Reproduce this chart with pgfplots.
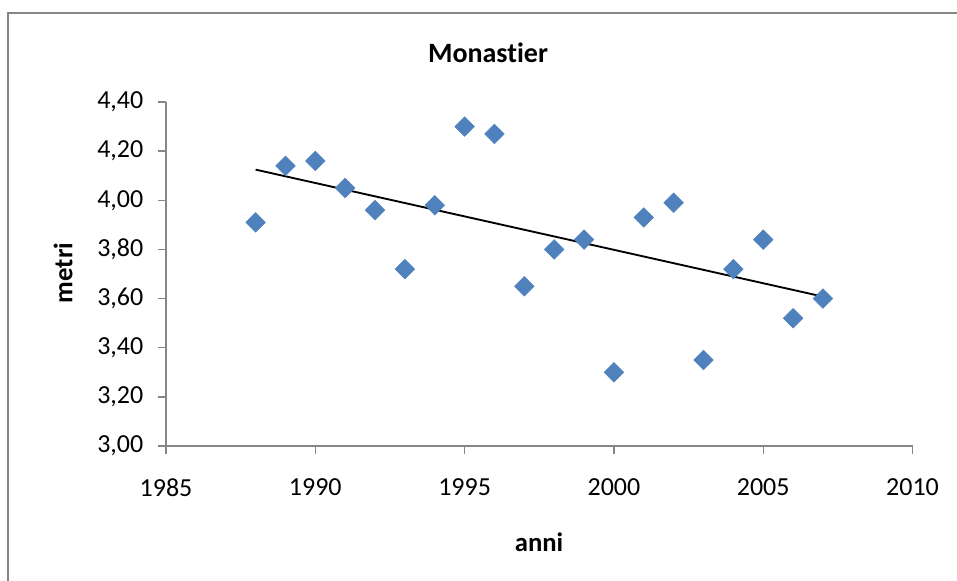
\documentclass[border=0pt]{standalone}
\usepackage{fontspec}
\setmainfont{Carlito}[Ligatures=NoCommon]
\usepackage{pgfplots}
\usepackage{pgfplotstable}
\pgfplotsset{compat=1.18}
\definecolor{xlblue}{HTML}{4F81BD}
\definecolor{xlgray}{HTML}{868686}
\pgfplotstableread{
x y
1988 3.91
1989 4.14
1990 4.16
1991 4.05
1992 3.96
1993 3.72
1994 3.98
1995 4.30
1996 4.27
1997 3.65
1998 3.80
1999 3.84
2000 3.30
2001 3.93
2002 3.99
2003 3.35
2004 3.72
2005 3.84
2006 3.52
2007 3.60
}\datatable
\begin{document}
\fontsize{19}{23}\selectfont
\begin{tikzpicture}
\useasboundingbox (0,0) rectangle (717.75pt,435.75pt);
\draw[xlgray, line width=1.1pt] (6pt,-20pt) -- (6pt,426pt) -- (740pt,426pt);
\begin{axis}[
  at={(124.5pt,101.25pt)}, anchor=south west,
  scale only axis, width=559.9pt, height=258pt,
  xmin=1985, xmax=2010, ymin=3, ymax=4.4,
  xtick={1985,1990,...,2010},
  ytick={3,3.2,...,4.4},
  axis x line*=bottom, axis y line*=left,
  axis line style={xlgray, line width=1pt},
  tick style={xlgray, line width=1pt},
  tick align=outside, major tick length=6pt,
  /pgf/number format/assume math mode=true,
  xticklabel style={/pgf/number format/1000 sep={}, font=\fontsize{19.5}{23}\selectfont, yshift=-12pt},
  yticklabel style={/pgf/number format/.cd, fixed, fixed zerofill, precision=2, use comma, /tikz/.cd, font=\fontsize{19.5}{23}\selectfont, xshift=-4.5pt},
  clip=false,
]
\addplot[only marks, mark=square*, mark size=5.2pt, mark options={rotate=45, fill=xlblue, draw=xlblue}] table[x=x, y=y] {\datatable};
\addplot[black, line width=1.4pt, no marks] table[x=x, y={create col/linear regression={y=y}}] {\datatable};
\end{axis}
\node[font=\fontsize{21}{25}\selectfont\bfseries] at (366pt,396pt) {Monastier};
\node[font=\fontsize{20}{24}\selectfont\bfseries] at (404.25pt,29.25pt) {anni};
\node[font=\fontsize{20}{24}\selectfont\bfseries, rotate=90] at (47.25pt,231pt) {metri};
\end{tikzpicture}
\end{document}
